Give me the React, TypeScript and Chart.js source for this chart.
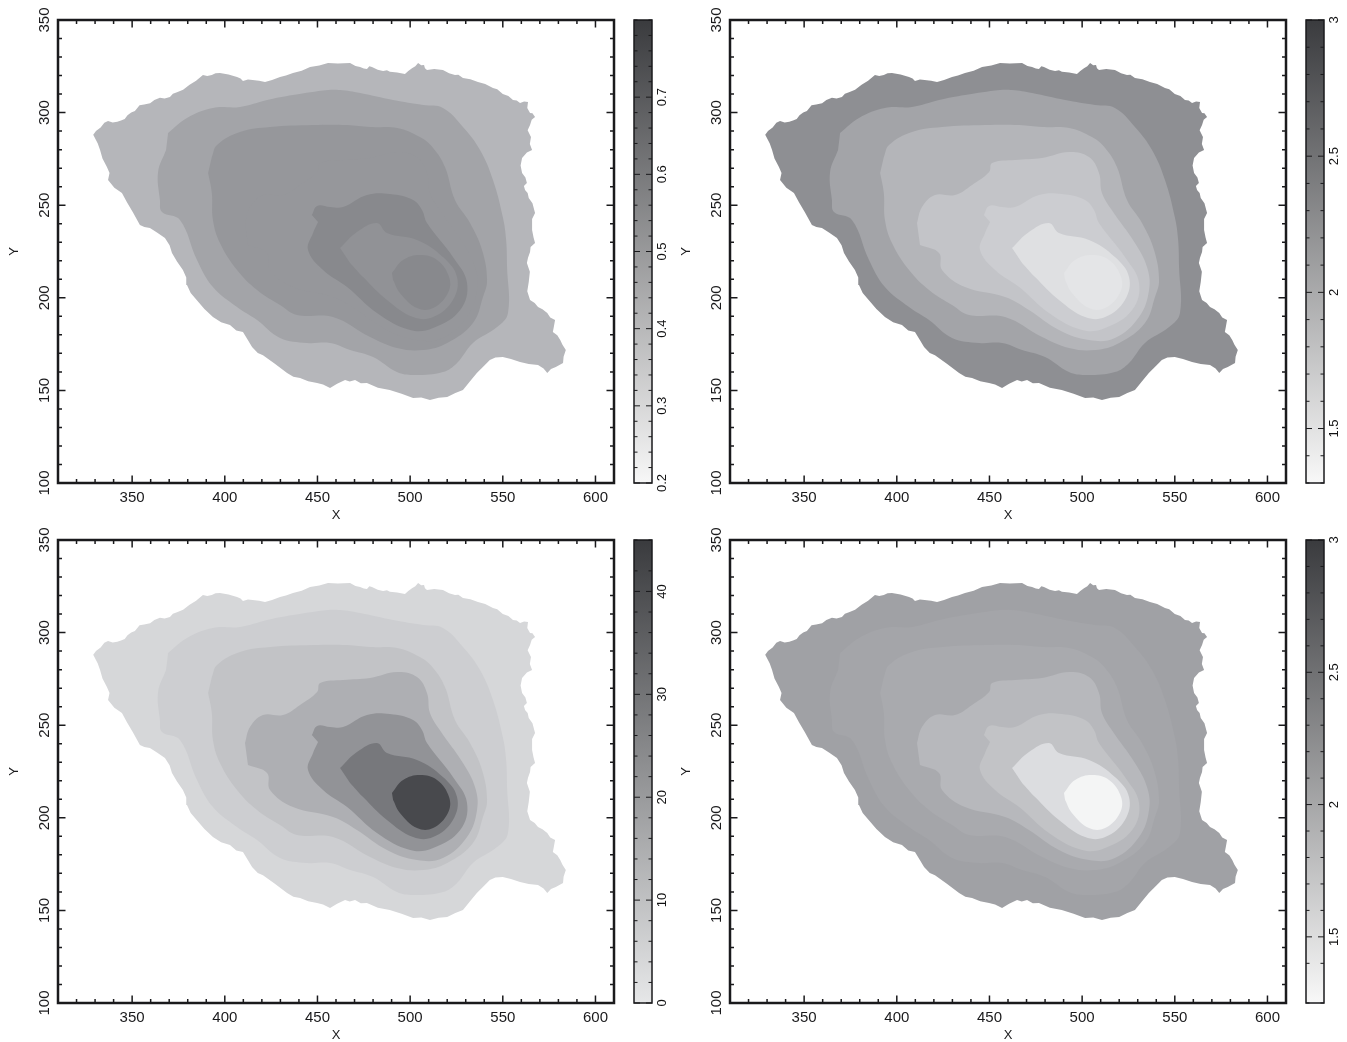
import React, { useEffect, useRef } from "react";
import { Chart, registerables } from "chart.js";

Chart.register(...registerables);

type Pair = [number, number];

// Contour outlines in data units (X, Y), outermost first.
const contourA: Pair[] = [
  [329, 288], [330.5, 290], [333, 292], [335, 294.5], [337, 295.5], [339.5, 294.6], [342, 295], [344, 295.8], [346, 296.5],
  [347.5, 298.6], [349.5, 300], [351.5, 300.8], [354, 304], [356.5, 304.4], [359.7, 305], [362, 306.8], [365, 308], [367.5, 307.6],
  [370.4, 308.4], [372, 310.2], [374.2, 311], [377.5, 312.4], [381, 315], [384.5, 317.2], [388.2, 320.3], [390.5, 319.8], [393, 320.3],
  [395, 321.2], [397.4, 321.4], [402, 320.6], [406.6, 319.2], [408.5, 318.4], [409.8, 317], [412.5, 317.9], [415, 317.6], [418.5, 317.2],
  [421.7, 316.5], [425.5, 317.6], [429.8, 319.2], [433, 320], [436.8, 321.4], [441.5, 322.6], [446, 324.6], [451, 325.4], [455.7, 326.8],
  [461, 326.5], [467.6, 326.8], [470.5, 325.2], [473, 324.6], [475, 323.8], [476.7, 323.5], [478, 325], [479.4, 324.6], [482.5, 323.2],
  [485.4, 322.5], [487.5, 322.8], [489.1, 322], [493, 321.7], [497.2, 320.8], [499, 322.4], [501, 324], [502.8, 325], [504.3, 326.8],
  [506, 325.6], [507.5, 325.7], [508, 324], [509.1, 323], [513, 323.6], [517.7, 323], [521, 321.2], [524.2, 320.3], [526, 320.4],
  [528.5, 318.7], [532.5, 318], [536.6, 316.5], [540.5, 315.4], [544.7, 313.3], [547, 312.6], [550, 310], [553, 309], [555.5, 306.8],
  [557.5, 306.6], [559.3, 305.2], [561.5, 306], [563.6, 305.7], [563.2, 302.5], [564.7, 299.8], [566, 299.6], [567.4, 297.6],
  [565.6, 296.2], [564.7, 293.3], [563.4, 290.5], [565.2, 286.8], [564.6, 283], [565.8, 279.8], [563, 278.4], [560.4, 275.5],
  [559.6, 271.5], [560.4, 267.4], [562.2, 265], [563, 262], [561.4, 260.4], [562, 258.2], [563.4, 256.6], [564, 253.9], [566, 251], [567.4, 245.8],
  [565.8, 242.6], [565.8, 236.6], [566.6, 232.6], [567.4, 229.6], [565, 227.4], [564.7, 224.7], [563.6, 221.6], [563, 218.8], [564.6, 214], [564, 208.5],
  [563.2, 203.5], [564.7, 198.8], [567.2, 197.2], [569, 195], [571.4, 193.8], [574, 191.8], [575.6, 189.4], [578.2, 188], [577.6, 184.6], [577, 181.5],
  [579.4, 179.8], [581, 177.2], [582.2, 174.6], [584, 171.8], [582.8, 168.2], [582.5, 164.8], [578.6, 162.6], [576, 161.6], [574, 159.4], [572, 161.8], [569, 163.7],
  [564, 164.2], [559.3, 165.3], [554.4, 167], [550, 168], [546, 167.8], [543, 166.4], [539.8, 163.2], [536, 159.4], [532, 154.6], [528.5, 150.2], [524.4, 148.6], [520, 146.4],
  [515.4, 146], [510.7, 144.8], [506, 146.2], [501.6, 145.9], [495.4, 148.2], [489, 150.2], [482.6, 151.4], [476.7, 154], [473.4, 153.8], [470.3, 155.6], [467.4, 154.8], [464.9, 155.6],
  [460.6, 153.6], [456.8, 151.3], [453, 153.2], [449.8, 154], [445, 155], [440.6, 156.7], [437, 157.4], [433.6, 159.4], [427, 164.4], [420.6, 169], [417.8, 170.2], [414.7, 173.4],
  [412.6, 177], [409.8, 181.5], [406.2, 182.4], [402.8, 185.3], [398, 186.8], [393.6, 189.6], [389, 194], [383.9, 199.9], [381.6, 202.6], [379.6, 206.9], [379.2, 211], [377.4, 215],
  [374.2, 219.6], [371.5, 224.2], [370.2, 228.4], [367.7, 232.3], [363.4, 235.2], [359.6, 237.7], [356.6, 238.2], [354.2, 239.3], [350.4, 246.2], [347.2, 251.6], [344.5, 256.6],
  [340.4, 259.4], [337, 263.6], [337.8, 267.4], [336.4, 270.6], [334, 275.2], [332.7, 279.8], [331.4, 283.4],
];
const contourB: Pair[] = [
  [369.4, 289], [379.6, 297.1], [393.6, 302.5], [408.2, 303], [422.8, 306.8], [436.8, 309.5], [455.7, 312.2], [462.2, 312.2],
  [473, 310.6], [490.8, 306.8], [507, 304.1], [517.7, 302.5], [528.5, 292.2], [537.7, 279.8], [544.7, 263.6], [550, 243.6],
  [551.8, 231.2], [552.3, 216.6], [552.8, 191.8], [546.9, 184.2], [533.9, 175.6], [525.3, 164.8], [517.7, 159.9], [501.6, 158.3],
  [492.9, 159.9], [480, 168], [467.6, 171.8], [456.8, 175.6], [444.4, 175.6], [429.8, 178.3], [417.4, 188], [406.6, 195],
  [393.6, 205.8], [385, 220.4], [375.8, 242], [366.1, 246.3], [365, 252.8], [364, 267.9], [368.3, 279.8],
];
const contourC: Pair[] = [
  [393, 276], [395.8, 282.5], [408.2, 289.5], [424.4, 292.2], [447.6, 293.3], [466, 293.3], [478.4, 292.2], [493, 291.7],
  [505.3, 286.8], [512.4, 280.9], [518.8, 270.6], [524.2, 252.8], [532.3, 240.4], [538.8, 225.8], [541.5, 209.6], [539.3, 200.4],
  [533.9, 186.4], [520, 175.6], [507, 171.8], [492.9, 172.9], [478.4, 178.8], [458.4, 189.6], [439, 190.7], [429.8, 196.1],
  [417.4, 204.2], [406.6, 215], [397.4, 229.6], [393.6, 242], [393, 256.6], [391, 267.4],
];
const contourI: Pair[] = [
  [410.9, 240.4], [413.6, 249], [420.6, 255.5], [431.4, 255.5], [440.6, 260.9], [449.8, 267.9], [451.4, 272.8], [463.8, 274.4],
  [478.4, 275.5], [493, 278.7], [503.7, 276], [509.1, 267.4], [510.7, 256.6], [516, 247.4], [528.5, 229.6], [535, 216.6],
  [536.1, 204.2], [530.7, 189.6], [517.7, 178.3], [503.7, 177.2], [487.5, 182.6], [471.3, 193.4], [458.4, 200.4], [436.8, 205.8],
  [424.4, 215], [422.8, 224.2], [412.5, 228.5],
];
const contourD: Pair[] = [
  [447, 244.7], [449.8, 249.6], [456.8, 249], [463.8, 249], [476.7, 255.5], [489.1, 256], [501.6, 252.8], [506.4, 247.4],
  [509.1, 240.4], [523.1, 222], [530.7, 208], [527, 193.4], [512.4, 183.7], [500, 182.6], [482.1, 191.8], [466, 205.8],
  [453, 215], [444.9, 225.8], [447.6, 235], [450.3, 240.9],
];
const contourE: Pair[] = [
  [462.2, 226.9], [471.3, 235.5], [482.1, 240.4], [487.5, 235], [503.7, 231.2], [517.7, 222], [525.3, 211.2], [523.1, 198.8],
  [512.4, 189.6], [501.6, 189.6], [487.5, 198.8], [474.6, 211.2], [467.6, 218.8],
];
const contourF: Pair[] = [
  [490.2, 213.4], [496.2, 220.4], [505.3, 223.1], [514.5, 220.4], [521, 211.2], [520.4, 202.6], [512.4, 194.5], [503.7, 194.5],
  [494.5, 202.6], [490.8, 209.6],
];
const contours = [contourA, contourB, contourC, contourI, contourD, contourE, contourF];

// Grey of each band, outermost first, one list per panel.
const bandsTopLeft = ["#b5b6ba", "#a3a4a8", "#96979b", "#96979b", "#88898d", "#919296", "#88898d"];
const bandsTopRight = ["#8e8f93", "#a3a4a8", "#b4b5b9", "#c3c4c8", "#cccdd1", "#dfe0e2", "#e4e5e7"];
const bandsBottomLeft = ["#d6d7d9", "#cdced1", "#c2c3c6", "#aeafb3", "#929397", "#77787c", "#48494d"];
const bandsBottomRight = ["#a0a1a5", "#a4a5a9", "#a9aaae", "#b7b8bc", "#c2c3c6", "#dcdde0", "#f4f5f5"];

const xLabels = [350, 400, 450, 500, 550, 600];
const yLabels = [100, 150, 200, 250, 300, 350];

const cbTopLeft = { min: 0.2, max: 0.8, step: 0.02, labels: [0.2, 0.3, 0.4, 0.5, 0.6, 0.7], low: "#f7f7f7", high: "#3a3b3e", pad: 1.5 };
const cbTopRight = { min: 1.3, max: 3, step: 0.1, labels: [1.5, 2, 2.5, 3], low: "#f8f8f8", high: "#3a3b3e", pad: 1.5 };
const cbBottomLeft = { min: 0, max: 45, step: 2, labels: [0, 10, 20, 30, 40], low: "#e6e7e8", high: "#3a3b3e", pad: 3 };
const cbBottomRight = { min: 1.25, max: 3, step: 0.1, labels: [1.5, 2, 2.5, 3], low: "#f8f8f8", high: "#3a3b3e", pad: 1.5 };

const FONT = "'Liberation Sans', sans-serif";
const INK = "#1a1a1c";
const hasValue = (list: number[], v: number) => list.some((l) => Math.abs(l - v) < 1e-6);

function ticksPlugin(lineWidth: number, major: number, minor: number, xMajor: number[] | null, yMajor: number[]) {
  return {
    id: "frameTicks",
    afterDraw(chart: any) {
      const { ctx, chartArea: a, scales } = chart;
      ctx.save();
      ctx.strokeStyle = INK;
      ctx.lineWidth = Math.max(1, lineWidth - 1);
      ctx.beginPath();
      if (xMajor) {
        for (const t of scales.x.ticks) {
          const px = scales.x.getPixelForValue(t.value);
          const len = hasValue(xMajor, t.value) ? major : minor;
          ctx.moveTo(px, a.bottom);
          ctx.lineTo(px, a.bottom - len);
          ctx.moveTo(px, a.top);
          ctx.lineTo(px, a.top + len);
        }
      }
      for (const t of scales.y.ticks) {
        const py = scales.y.getPixelForValue(t.value);
        const len = hasValue(yMajor, t.value) ? major : minor;
        ctx.moveTo(a.left, py);
        ctx.lineTo(a.left + len, py);
        ctx.moveTo(a.right, py);
        ctx.lineTo(a.right - len, py);
      }
      ctx.stroke();
      ctx.lineWidth = lineWidth;
      ctx.strokeRect(a.left, a.top, a.right - a.left, a.bottom - a.top);
      ctx.restore();
    },
  };
}

function MapPanel({ left, top, bands }: { left: number; top: number; bands: string[] }) {
  const ref = useRef<HTMLCanvasElement>(null);
  useEffect(() => {
    const datasets = contours
      .map((points, i) => ({
        data: points.map(([x, y]) => ({ x, y })),
        showLine: true,
        fill: "shape",
        backgroundColor: bands[i],
        borderWidth: 0,
        pointRadius: 0,
        tension: i === 0 ? 0 : 0.4,
      }))
      .reverse();
    const chart = new Chart(ref.current as HTMLCanvasElement, {
      type: "scatter",
      data: { datasets } as any,
      options: {
        animation: false,
        responsive: false,
        maintainAspectRatio: false,
        layout: { padding: { top: 20, right: 12, left: 0, bottom: 0 } },
        plugins: { legend: { display: false }, tooltip: { enabled: false } },
        scales: {
          x: {
            type: "linear",
            min: 310,
            max: 610,
            afterFit: (s: any) => { s.height = 39; },
            grid: { display: false, drawTicks: false },
            border: { display: false },
            title: { display: true, text: "X", color: INK, font: { family: FONT, size: 13, lineHeight: 1 }, padding: { top: 0, bottom: 0 } },
            ticks: {
              stepSize: 10,
              autoSkip: false,
              maxRotation: 0,
              padding: 6,
              color: INK,
              font: { family: FONT, size: 15 },
              callback: (v: any) => (hasValue(xLabels, v) ? String(v) : ""),
            },
          },
          y: {
            type: "linear",
            min: 100,
            max: 350,
            afterFit: (s: any) => { s.width = 58; },
            grid: { display: false, drawTicks: false },
            border: { display: false },
            title: { display: true, text: "Y", color: INK, font: { family: FONT, size: 13 }, padding: { top: 7, bottom: 0 } },
            ticks: {
              stepSize: 10,
              autoSkip: false,
              minRotation: 90,
              maxRotation: 90,
              crossAlign: "center",
              padding: 1,
              color: INK,
              font: { family: FONT, size: 15 },
              callback: (v: any) => (hasValue(yLabels, v) ? String(v) : ""),
            },
          },
        },
      } as any,
      plugins: [ticksPlugin(2.5, 7.5, 4, xLabels, yLabels)],
    });
    return () => chart.destroy();
  }, []);
  return <canvas ref={ref} width={626} height={522} style={{ position: "absolute", left, top, display: "block" }} />;
}

function ColorBar({ left, top, width, cb }: { left: number; top: number; width: number; cb: typeof cbTopLeft }) {
  const ref = useRef<HTMLCanvasElement>(null);
  useEffect(() => {
    const chart = new Chart(ref.current as HTMLCanvasElement, {
      type: "bar",
      data: {
        labels: [""],
        datasets: [
          {
            data: [[cb.min, cb.max]],
            barPercentage: 1,
            categoryPercentage: 1,
            borderWidth: 0,
            backgroundColor: (c: any) => {
              const area = c.chart.chartArea;
              if (!area) return cb.low;
              const g = c.chart.ctx.createLinearGradient(0, area.bottom, 0, area.top);
              g.addColorStop(0, cb.low);
              g.addColorStop(1, cb.high);
              return g;
            },
          },
        ],
      } as any,
      options: {
        animation: false,
        responsive: false,
        maintainAspectRatio: false,
        layout: { padding: { top: 20, left: 8, right: 0, bottom: 39 } },
        plugins: { legend: { display: false }, tooltip: { enabled: false } },
        scales: {
          x: { display: false },
          y: {
            type: "linear",
            position: "right",
            min: cb.min,
            max: cb.max,
            afterFit: (s: any) => { s.width = width - 26; },
            grid: { display: false, drawTicks: false },
            border: { display: false },
            ticks: {
              stepSize: cb.step,
              autoSkip: false,
              minRotation: 90,
              maxRotation: 90,
              crossAlign: "center",
              padding: cb.pad,
              color: "#111112",
              font: { family: FONT, size: 13 },
              callback: (v: any) => (hasValue(cb.labels, v) ? String(Number(Number(v).toFixed(2))) : ""),
            },
          },
        },
      } as any,
      plugins: [ticksPlugin(1.5, 6, 3.5, null, cb.labels)],
    });
    return () => chart.destroy();
  }, []);
  return <canvas ref={ref} width={width} height={522} style={{ position: "absolute", left, top, display: "block" }} />;
}

export default function App() {
  return (
    <div style={{ position: "absolute", left: 0, top: 0, width: 1347, height: 1042, overflow: "hidden", background: "#fff" }}>
      <MapPanel left={0} top={0} bands={bandsTopLeft} />
      <ColorBar left={626} top={0} width={64} cb={cbTopLeft} />
      <MapPanel left={672} top={0} bands={bandsTopRight} />
      <ColorBar left={1298} top={0} width={49} cb={cbTopRight} />
      <MapPanel left={0} top={520} bands={bandsBottomLeft} />
      <ColorBar left={626} top={520} width={64} cb={cbBottomLeft} />
      <MapPanel left={672} top={520} bands={bandsBottomRight} />
      <ColorBar left={1298} top={520} width={49} cb={cbBottomRight} />
    </div>
  );
}
